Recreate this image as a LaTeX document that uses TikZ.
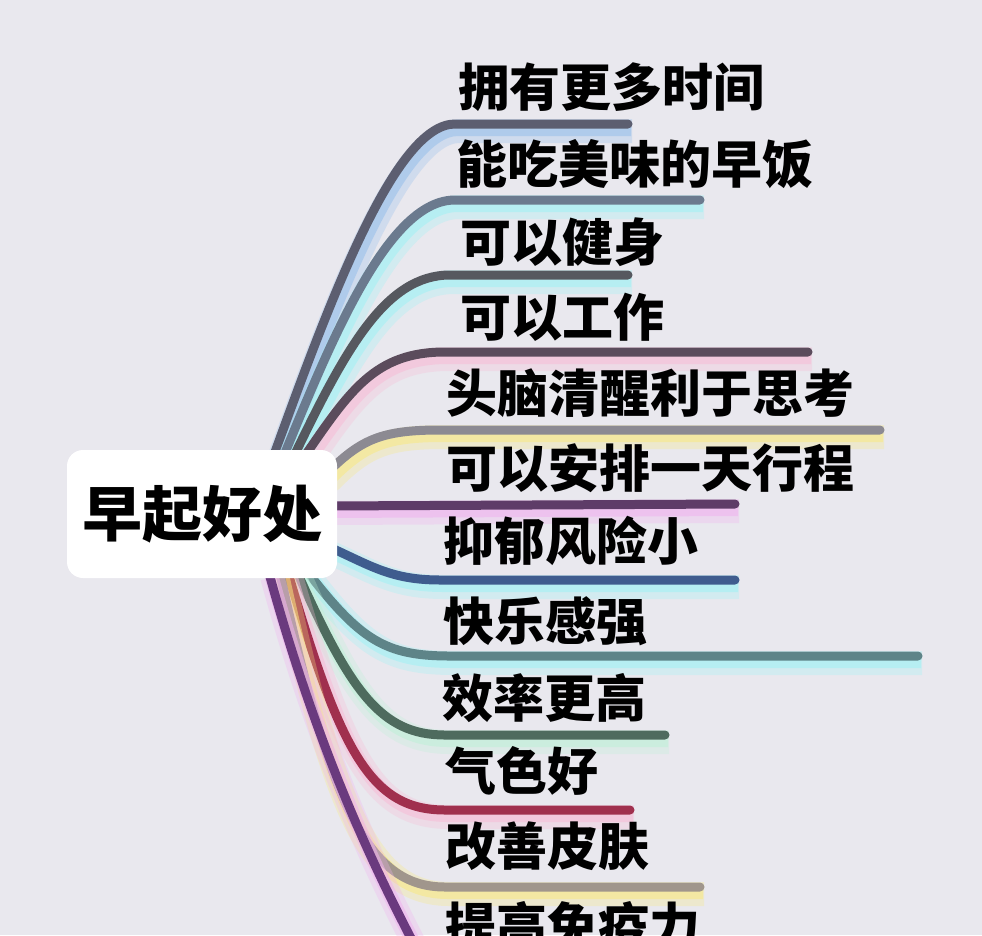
\documentclass[tikz,border=0pt]{standalone}
\usepackage{fontspec}
\newfontfamily\cjk{Noto Sans CJK SC}
\usetikzlibrary{calc}

\definecolor{paper}{RGB}{233,232,238}
\definecolor{inkA}{RGB}{92,94,112}
\definecolor{inkB}{RGB}{107,122,142}
\definecolor{inkC}{RGB}{86,88,95}
\definecolor{inkD}{RGB}{91,76,92}
\definecolor{inkE}{RGB}{140,138,146}
\definecolor{inkF}{RGB}{94,60,104}
\definecolor{inkG}{RGB}{63,92,142}
\definecolor{inkH}{RGB}{94,132,136}
\definecolor{inkI}{RGB}{78,107,94}
\definecolor{inkJ}{RGB}{160,48,78}
\definecolor{inkK}{RGB}{160,150,140}
\definecolor{inkL}{RGB}{106,58,126}
\definecolor{glowBlue}{RGB}{150,190,235}
\definecolor{glowCyan}{RGB}{160,242,245}
\definecolor{glowPink}{RGB}{247,188,214}
\definecolor{glowYellow}{RGB}{248,232,130}
\definecolor{glowMagenta}{RGB}{240,178,238}
\definecolor{glowMint}{RGB}{190,240,215}

\pgfdeclarelayer{back}
\pgfsetlayers{back,main}

\begin{document}
\begin{tikzpicture}[x=1pt,y=-1pt]
    \tikzset{
      topic/.style={fill=white,rounded corners=16pt,minimum width=270pt,minimum height=128pt,
        inner sep=0pt,font=\cjk\bfseries\fontsize{60}{60}\selectfont},
      benefit/.style={anchor=base west,inner sep=0pt,font=\cjk\bfseries\fontsize{51}{51}\selectfont},
      branch/.style 2 args={draw=#1,line width=9pt,line cap=round,
        preaction={draw=#2,line width=24pt,opacity=.3,transform canvas={shift={(4pt,-7pt)}}},
        preaction={draw=#2,line width=14pt,opacity=.55,transform canvas={shift={(3pt,-5pt)}}}}
    }
    \useasboundingbox (0,0) rectangle (982,935);

    \node[topic] (root) at (202,514) {早起好处};

    \node[benefit] (l1) at (458,106) {拥有更多时间};
    \node[benefit] (l2) at (456,183) {能吃美味的早饭};
    \node[benefit] (l3) at (460,261) {可以健身};
    \node[benefit] (l4) at (460,336) {可以工作};
    \node[benefit] (l5) at (446,412) {头脑清醒利于思考};
    \node[benefit] (l6) at (446,487) {可以安排一天行程};
    \node[benefit] (l7) at (443,560) {抑郁风险小};
    \node[benefit] (l8) at (443,640) {快乐感强};
    \node[benefit] (l9) at (442,717) {效率更高};
    \node[benefit] (l10) at (445,790) {气色好};
    \node[benefit] (l11) at (445,865) {改善皮肤};
    \node[benefit] (l12) at (445,945) {提高免疫力};

    \coordinate (e1) at (628,124);
    \coordinate (e2) at (700,200);
    \coordinate (e3) at (628,275);
    \coordinate (e4) at (808,352);
    \coordinate (e5) at (880,430);
    \coordinate (e6) at (735,504);
    \coordinate (e7) at (735,580);
    \coordinate (e8) at (918,656);
    \coordinate (e9) at (665,735);
    \coordinate (e10) at (630,810);
    \coordinate (e11) at (700,887);
    \coordinate (e12) at (425,965);

    \begin{pgfonlayer}{back}
    \fill[paper] (0,0) rectangle (982,935);
    % upper branches
    \draw[branch={inkA}{glowBlue}] ($(root.north east)+(-65,10)$) .. controls (330,300) and (395,124) .. (455,124) -- (e1);
    \draw[branch={inkB}{glowCyan}] ($(root.north east)+(-55,10)$) .. controls (335,330) and (390,200) .. (455,200) -- (e2);
    \draw[branch={inkC}{glowCyan}] ($(root.north east)+(-45,10)$) .. controls (345,350) and (385,275) .. (450,275) -- (e3);
    \draw[branch={inkD}{glowPink}] ($(root.north east)+(-35,10)$) .. controls (350,390) and (375,352) .. (445,352) -- (e4);
    \draw[branch={inkE}{glowYellow}] ($(root.north east)+(-12,25)$) .. controls (360,440) and (380,430) .. (440,430) -- (e5);
    \draw[branch={inkF}{glowMagenta}] ($(root.east)+(-12,-8)$) -- (e6);
    % lower branches
    \draw[branch={inkG}{glowCyan}] ($(root.south east)+(-12,-33)$) .. controls (370,565) and (390,580) .. (440,580) -- (e7);
    \draw[branch={inkH}{glowCyan}] ($(root.south east)+(-31,-8)$) .. controls (360,640) and (385,656) .. (450,656) -- (e8);
    \draw[branch={inkI}{glowMint}] ($(root.south east)+(-41,-8)$) .. controls (350,690) and (380,735) .. (445,735) -- (e9);
    \draw[branch={inkJ}{glowPink}] ($(root.south east)+(-50,-8)$) .. controls (340,750) and (370,810) .. (445,810) -- (e10);
    \draw[branch={inkK}{glowYellow}] ($(root.south east)+(-58,-8)$) .. controls (330,800) and (365,887) .. (445,887) -- (e11);
    \draw[branch={inkL}{glowMagenta}] ($(root.south east)+(-69,-8)$) .. controls (320,760) and (380,880) .. (e12);
    \end{pgfonlayer}
  \end{tikzpicture}
\end{document}
